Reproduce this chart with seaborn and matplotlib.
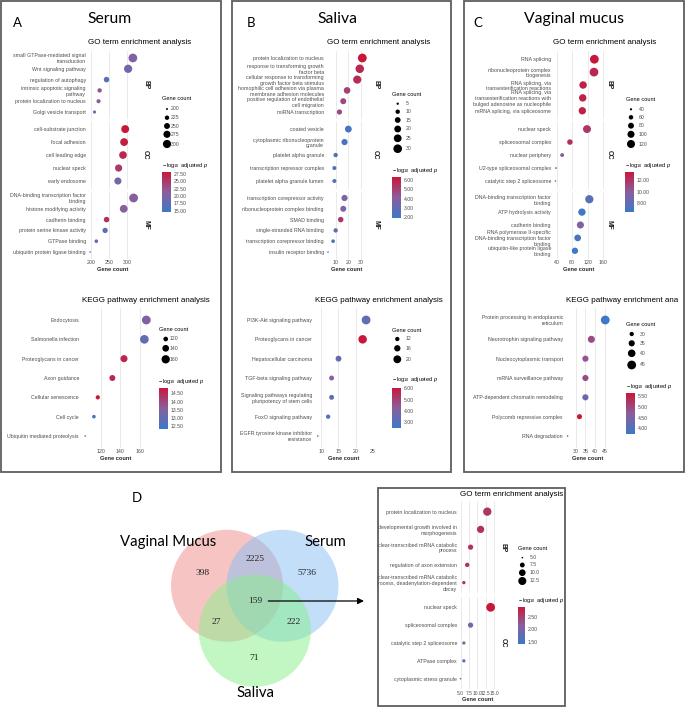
import numpy as np
import pandas as pd
import matplotlib
matplotlib.use("Agg")
import matplotlib.pyplot as plt
import seaborn as sns
from matplotlib.colors import LinearSegmentedColormap, Normalize
from matplotlib.patches import Rectangle, Circle
from matplotlib.cm import ScalarMappable

# ---------------- data ----------------
ont_6_5_6 = ["BP"] * 6 + ["CC"] * 5 + ["MF"] * 6

serum_go_terms = ["small GTPase-mediated signal\ntransduction", "Wnt signaling pathway",
                  "regulation of autophagy", "intrinsic apoptotic signaling\npathway",
                  "protein localization to nucleus", "Golgi vesicle transport",
                  "cell-substrate junction", "focal adhesion", "cell leading edge",
                  "nuclear speck", "early endosome",
                  "DNA-binding transcription factor\nbinding", "histone modifying activity",
                  "cadherin binding", "protein serine kinase activity", "GTPase binding",
                  "ubiquitin protein ligase binding"]
serum_go_ont = ont_6_5_6
serum_go_count = [315, 302, 243, 224, 221, 210, 294, 291, 288, 276, 274, 317, 290, 243, 239, 215, 198]
serum_go_logp = [20.5, 19.5, 17.5, 22.5, 21.5, 19.5, 28.3, 27.5, 27.0, 25.0, 19.5, 21.0, 21.0, 26.0, 17.0, 17.5, 14.45]

serum_kegg_terms = ["Endocytosis", "Salmonella infection", "Proteoglycans in cancer", "Axon guidance",
                    "Cellular senescence", "Cell cycle", "Ubiquitin mediated proteolysis"]
serum_kegg_count = [167, 165, 144, 132, 117, 113, 104]
serum_kegg_logp = [13.45, 13.0, 14.6, 14.55, 14.84, 12.5, 12.35]

saliva_go_terms = ["protein localization to nucleus", "response to transforming growth\nfactor beta",
                   "cellular response to transforming\ngrowth factor beta stimulus",
                   "homophilic cell adhesion via plasma\nmembrane adhesion molecules",
                   "positive regulation of endothelial\ncell migration", "miRNA transcription",
                   "coated vesicle", "cytoplasmic ribonucleoprotein\ngranule", "platelet alpha granule",
                   "transcription repressor complex", "platelet alpha granule lumen",
                   "transcription corepressor activity", "ribonucleoprotein complex binding",
                   "SMAD binding", "single-stranded RNA binding", "transcription corepressor binding",
                   "insulin receptor binding"]
saliva_go_ont = ont_6_5_6
saliva_go_count = [31, 29, 27, 19, 16, 13, 20, 17, 10, 9, 9, 17, 16, 14, 10, 8, 4]
saliva_go_logp = [6.29, 5.8, 5.7, 5.0, 4.8, 4.7, 2.3, 2.4, 2.6, 2.6, 2.5, 3.6, 3.7, 5.3, 2.8, 2.7, 1.9]

saliva_kegg_terms = ["PI3K-Akt signaling pathway", "Proteoglycans in cancer", "Hepatocellular carcinoma",
                     "TGF-beta signaling pathway", "Signaling pathways regulating\npluripotency of stem cells",
                     "FoxO signaling pathway", "EGFR tyrosine kinase inhibitor\nresistance"]
saliva_kegg_count = [23, 22, 15, 13, 13, 12, 9]
saliva_kegg_logp = [3.3, 6.05, 3.5, 4.2, 3.3, 2.9, 2.47]

vm_go_terms = ["RNA splicing", "ribonucleoprotein complex\nbiogenesis",
               "RNA splicing, via\ntransesterification reactions",
               "RNA splicing, via\ntransesterification reactions with\nbulged adenosine as nucleophile",
               "mRNA splicing, via spliceosome",
               "nuclear speck", "spliceosomal complex", "nuclear periphery",
               "U2-type spliceosomal complex", "catalytic step 2 spliceosome",
               "DNA-binding transcription factor\nbinding", "ATP hydrolysis activity", "cadherin binding",
               "RNA polymerase II-specific\nDNA-binding transcription factor\nbinding",
               "ubiquitin-like protein ligase\nbinding"]
vm_go_ont = ["BP"] * 5 + ["CC"] * 5 + ["MF"] * 5
vm_go_count = [137, 136, 108, 107, 106, 118, 74, 54, 38, 37, 124, 105, 101, 94, 87]
vm_go_logp = [13.42, 12.6, 13.0, 13.0, 13.0, 11.8, 12.3, 9.5, 8.8, 8.8, 7.8, 6.6, 9.6, 7.4, 6.46]

vm_kegg_terms = ["Protein processing in endoplasmic\nreticulum", "Neurotrophin signaling pathway",
                 "Nucleocytoplasmic transport", "mRNA surveillance pathway",
                 "ATP-dependent chromatin remodeling", "Polycomb repressive complex", "RNA degradation"]
vm_kegg_count = [45, 38, 35, 35, 35, 32, 26]
vm_kegg_logp = [3.75, 4.9, 4.8, 4.9, 4.3, 5.63, 3.72]

common_go_terms = ["protein localization to nucleus", "developmental growth involved in\nmorphogenesis",
                   "nuclear-transcribed mRNA catabolic\nprocess", "regulation of axon extension",
                   "nuclear-transcribed mRNA catabolic\nprocess, deadenylation-dependent\ndecay",
                   "nuclear speck", "spliceosomal complex", "catalytic step 2 spliceosome",
                   "ATPase complex", "cytoplasmic stress granule"]
common_go_ont = ["BP"] * 5 + ["CC"] * 5
common_go_count = [13, 11, 8, 7, 6, 14, 8, 6, 6, 5]
common_go_logp = [2.6, 2.65, 2.65, 2.65, 2.7, 2.92, 1.95, 2.2, 1.6, 1.41]

venn_sets = ["Vaginal Mucus", "Serum", "Saliva"]
venn_regions = ["VM", "VM&Se", "Se", "all", "VM&Sa", "Se&Sa", "Sa"]
venn_counts = [398, 2225, 5736, 159, 27, 222, 71]

# ---------------- style ----------------
W, H = 685, 707
sns.set_theme(style="white")
plt.rcParams["font.family"] = ["Liberation Sans", "DejaVu Sans"]
plt.rcParams["mathtext.fontset"] = "custom"
plt.rcParams["mathtext.rm"] = "Liberation Sans"
plt.rcParams["mathtext.it"] = "Liberation Sans:italic"
plt.rcParams["mathtext.bf"] = "Liberation Sans:bold"

CMAP = LinearSegmentedColormap.from_list("bluered", ["#3A7AC6", "#8A5E9E", "#C8183A"])
GRAY = "#4D4D4D"
SMIN, SMAX = (1.6 * 0.72) ** 2, (8.8 * 0.72) ** 2
FS_TICK = 3.8
FS_LEG = 3.7
FS_LEGT = 4.1
FS_TITLE = 5.75

fig = plt.figure(figsize=(W / 100, H / 100), dpi=100)
ov = fig.add_axes([0, 0, 1, 1])
ov.set_xlim(0, W)
ov.set_ylim(H, 0)
ov.axis("off")


def rect(l, t, r, b):
    return [l / W, 1 - b / H, (r - l) / W, (b - t) / H]


def dotplot(terms, onts, counts, logp, x0, x1, rows, xlim, xticks, xtl, title, title_xy, strip_x=None,
            xfs=FS_TICK):
    df = pd.DataFrame({"term": terms, "ont": onts, "count": counts, "logp": logp})
    hn = (min(logp), max(logp))
    sn = (min(counts), max(counts))
    facets = list(dict.fromkeys(onts))
    axes = []
    for f, (t, b) in zip(facets, rows):
        sub = df[df["ont"] == f]
        ax = fig.add_axes(rect(x0, t, x1, b))
        ax.set_facecolor("none")
        sns.scatterplot(data=sub, x="count", y="term", hue="logp", size="count", palette=CMAP,
                        hue_norm=hn, size_norm=sn, sizes=(SMIN, SMAX), legend=False,
                        linewidth=0, ax=ax, clip_on=False, zorder=3)
        n = len(sub)
        ax.set_ylim(n - 0.4, -0.6)
        ax.set_xlim(*xlim)
        ax.set_xticks(xticks)
        ax.set_yticks(range(n))
        ax.set_yticklabels(list(sub["term"]), fontsize=FS_TICK, color=GRAY)
        ax.grid(axis="x", color="#E6E6E6", lw=0.6)
        ax.grid(axis="y", visible=False)
        for s in ax.spines.values():
            s.set_visible(False)
        ax.tick_params(length=0, pad=1.5)
        ax.set_xlabel("")
        ax.set_ylabel("")
        if strip_x is not None:
            ov.text(strip_x, (t + b) / 2, f, rotation=-90, ha="center", va="center",
                    fontsize=4.8, fontweight="bold", color="#1A1A1A")
        axes.append(ax)
    for ax in axes[:-1]:
        ax.set_xticklabels([])
    axes[-1].set_xticklabels(xtl, fontsize=xfs, color=GRAY)
    axes[-1].tick_params(axis="x", pad=1.2)
    axes[-1].set_xlabel("Gene count", fontsize=FS_LEGT, fontweight="bold", labelpad=1.0)
    ov.text(title_xy[0], title_xy[1], title, ha="left", va="center", fontsize=FS_TITLE, color="black")
    return hn, sn


def legends(hn, sn, breaks, blabels, ys, title_xy, xdot, xlab, ctitle_xy, bar, cticks):
    ov.text(title_xy[0], title_xy[1], "Gene count", ha="left", va="center", fontsize=FS_LEGT, color="black")
    br = np.array(breaks, dtype=float)
    s = SMIN + (br - sn[0]) / (sn[1] - sn[0]) * (SMAX - SMIN)
    s = np.clip(s, SMIN * 0.8, None)
    ov.scatter([xdot] * len(br), ys, s=s, color="black", lw=0)
    for y, lab in zip(ys, blabels):
        ov.text(xlab, y, lab, ha="left", va="center", fontsize=FS_LEG, color=GRAY)
    ov.text(ctitle_xy[0], ctitle_xy[1], r"$-\,\log_{10}$ adjusted $p$", ha="left", va="center",
            fontsize=FS_LEGT, color="black")
    cax = fig.add_axes(rect(*bar))
    cb = fig.colorbar(ScalarMappable(norm=Normalize(*hn), cmap=CMAP), cax=cax)
    cb.outline.set_visible(False)
    cb.set_ticks(cticks)
    cb.set_ticklabels(["%.2f" % c for c in cticks])
    cax.tick_params(axis="y", direction="in", length=1.5, width=0.5, color="white",
                    labelcolor=GRAY, labelsize=FS_LEG, pad=2, left=True, right=True)


GO_ROWS3 = [(51.5, 118.5), (121.3, 188.8), (191.5, 258.5)]
KEGG_ROWS = [(308.4, 447.6)]

# ---------- Panel A : Serum ----------
hn, sn = dotplot(serum_go_terms, serum_go_ont, serum_go_count, serum_go_logp, 88, 137, GO_ROWS3,
                 (192.2, 326.3), [200, 250, 300], ["200", "250", "300"],
                 "GO term enrichment analysis", (88.3, 43), strip_x=145.7)
legends(hn, sn, [200, 225, 250, 275, 300], ["200", "225", "250", "275", "300"],
        [109, 117.7, 126, 134.3, 144], (162, 99), 167, 171, (161.7, 165.7),
        (162, 171.7, 171, 212.3), [15, 17.5, 20, 22.5, 25, 27.5])
serum_k_ont = ["KEGG"] * len(serum_kegg_terms)
hn, sn = dotplot(serum_kegg_terms, serum_k_ont, serum_kegg_count, serum_kegg_logp, 81, 150, KEGG_ROWS,
                 (99.7, 170.8), [120, 140, 160], ["120", "140", "160"],
                 "KEGG pathway enrichment analysis", (81.7, 301))
legends(hn, sn, [120, 140, 160], ["120", "140", "160"], [339, 348.3, 359.3], (159.3, 329.3), 165.7, 170,
        (158, 381.7), (159.3, 387.7, 168.3, 428.7), [12.5, 13.0, 13.5, 14.0, 14.5])

# ---------- Panel B : Saliva ----------
hn, sn = dotplot(saliva_go_terms, saliva_go_ont, saliva_go_count, saliva_go_logp, 326, 367, GO_ROWS3,
                 (2.4, 34.7), [10, 20, 30], ["10", "20", "30"],
                 "GO term enrichment analysis", (326.7, 43), strip_x=375.7)
legends(hn, sn, [5, 10, 15, 20, 25, 30], ["5", "10", "15", "20", "25", "30"],
        [103.7, 111.7, 120, 129, 138.3, 148.7], (392.3, 94.3), 397.7, 405.7, (391.7, 170.7),
        (391.7, 177.3, 400.7, 218.3), [2, 3, 4, 5, 6])
saliva_k_ont = ["KEGG"] * len(saliva_kegg_terms)
hn, sn = dotplot(saliva_kegg_terms, saliva_k_ont, saliva_kegg_count, saliva_kegg_logp, 314, 373, KEGG_ROWS,
                 (7.9, 23.9), [10, 15, 20, 25], ["10", "15", "20", "25"],
                 "KEGG pathway enrichment analysis", (315, 301))
legends(hn, sn, [12, 16, 20], ["12", "16", "20"], [339, 348.3, 359.3], (392.3, 330), 397.3, 406,
        (391.7, 379), (391.7, 387.7, 400.7, 428.3), [3, 4, 5, 6])

# ---------- Panel C : Vaginal mucus ----------
hn, sn = dotplot(vm_go_terms, vm_go_ont, vm_go_count, vm_go_logp, 553, 604, GO_ROWS3,
                 (30.5, 161.8), [40, 80, 120, 160], ["40", "80", "120", "160"],
                 "GO term enrichment analysis", (553.3, 43), strip_x=609.3)
legends(hn, sn, [40, 60, 80, 100, 120], ["40", "60", "80", "100", "120"],
        [109.3, 117.3, 125.7, 134.3, 144], (625.7, 99.3), 631, 639, (625, 165),
        (625, 171.7, 634, 212.3), [8, 10, 12])
vm_k_ont = ["KEGG"] * len(vm_kegg_terms)
hn, sn = dotplot(vm_kegg_terms, vm_k_ont, vm_kegg_count, vm_kegg_logp, 565, 610, KEGG_ROWS,
                 (24.7, 47.4), [30, 35, 40, 45], ["30", "35", "40", "45"],
                 "KEGG pathway enrichment analysis", (566, 301))
legends(hn, sn, [30, 35, 40, 45], ["30", "35", "40", "45"], [334, 343.3, 353.3, 365], (625.7, 324), 631.7, 640,
        (625.7, 386.7), (625.7, 393.3, 634.7, 434.3), [4.0, 4.5, 5.0, 5.5])

# ---------- Panel D : common GO ----------
hn, sn = dotplot(common_go_terms, common_go_ont, common_go_count, common_go_logp, 459, 496,
                 [(501, 593.3), (596.6, 689.4)],
                 (4.55, 15.6), [5, 7.5, 10, 12.5, 15], ["5.0", "7.5", "10.0", "12.5", "15.0"],
                 "GO term enrichment analysis", (460, 494), strip_x=503.3, xfs=3.5)
legends(hn, sn, [5.0, 7.5, 10.0, 12.5], ["5.0", "7.5", "10.0", "12.5"], [557.7, 565, 572.7, 581],
        (518.3, 549), 522.3, 530, (518, 600.7), (517.7, 606.7, 524.7, 644), [1.5, 2.0, 2.5])

# ---------- Venn diagram ----------
circ = {"Vaginal Mucus": ((227, 585.8), "#F08A8A"),
        "Serum": ((282.5, 585.8), "#86BFF5"),
        "Saliva": ((254.8, 630.8), "#86F08A")}
for name in venn_sets:
    (cx, cy), col = circ[name]
    ov.add_patch(Circle((cx, cy), 56, facecolor=col, alpha=0.5, lw=0))
set_label_pos = {"Vaginal Mucus": (168, 541.7), "Serum": (325, 541.7), "Saliva": (255, 693.3)}
for name in venn_sets:
    x, y = set_label_pos[name]
    ov.text(x, y, name, ha="center", va="center", fontsize=10.7, family="Lato", color="black")
region_pos = {"VM": (202.7, 572.7), "VM&Se": (254.7, 559), "Se": (307.3, 572.7), "all": (255, 601),
              "VM&Sa": (216, 622), "Se&Sa": (293.3, 622), "Sa": (254.3, 658.3)}
for reg, cnt in zip(venn_regions, venn_counts):
    x, y = region_pos[reg]
    ov.text(x, y, str(cnt), ha="center", va="center", fontsize=6.8, family="Liberation Serif", color="#222222")
ov.annotate("", xy=(364, 601), xytext=(268.3, 601),
            arrowprops=dict(arrowstyle="-|>", lw=0.9, color="black", mutation_scale=9, shrinkA=0, shrinkB=0))

# ---------- panel titles ----------
for x, s in [(12.5, "A"), (247, "B"), (473, "C")]:
    ov.text(x, 27, s, ha="left", va="baseline", fontsize=9.5, family="Lato", color="black")
ov.text(132, 502, "D", ha="left", va="baseline", fontsize=9.5, family="Lato", color="black")
for x, s in [(109.5, "Serum"), (337, "Saliva"), (573.7, "Vaginal mucus")]:
    ov.text(x, 23, s, ha="center", va="baseline", fontsize=11.3, family="Lato", color="black")

# ---------- top overlay: clipping masks and panel frames ----------
top = fig.add_axes([0, 0, 1, 1], zorder=10)
top.set_xlim(0, W)
top.set_ylim(H, 0)
top.axis("off")
top.add_patch(Rectangle((365, 489), 12.5, 216, facecolor="white", lw=0))
top.add_patch(Rectangle((678, 290), 7, 22, facecolor="white", lw=0))
for (l, t, r, b) in [(1, 1, 221, 472), (232, 1, 451, 472), (464, 1, 684, 472), (378, 488, 565, 706)]:
    top.add_patch(Rectangle((l, t), r - l, b - t, fill=False, ec="#5E5E5E", lw=1.3))

fig.savefig("out.png", dpi=100)
